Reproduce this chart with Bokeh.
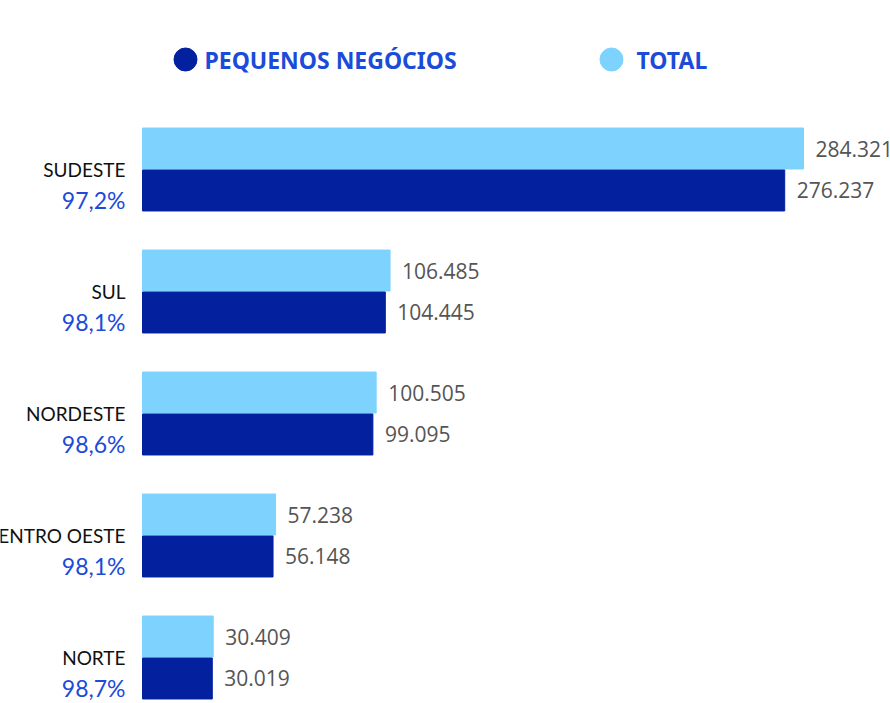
from bokeh.plotting import figure
from bokeh.models import ColumnDataSource, Range1d
from bokeh.core.properties import value
from bokeh.embed import file_html
from bokeh.resources import INLINE

regions = ["SUDESTE", "SUL", "NORDESTE", "CENTRO OESTE", "NORTE"]
shares = ["97,2%", "98,1%", "98,6%", "98,1%", "98,7%"]
total = [284321, 106485, 100505, 57238, 30409]
pequenos = [276237, 104445, 99095, 56148, 30019]
series_names = ["PEQUENOS NEGÓCIOS", "TOTAL"]

DARK = "#03209e"
LIGHT = "#7dd3fd"
BLUE_TXT = "#1b4bd8"
GREY = "#555555"

def fmt(v):
    return f"{v:,}".replace(",", ".")

n = len(regions)
pos = [-i for i in range(n)]
off = 0.172
bh = 0.336

src = ColumnDataSource(dict(
    region=regions, share=shares, pos=pos,
    y_tot=[p + off for p in pos], y_pn=[p - off for p in pos],
    total=total, pequenos=pequenos,
    tot_lbl=[fmt(v) for v in total], pn_lbl=[fmt(v) for v in pequenos],
    pct_y=[p - 0.25 for p in pos],
))

upp = 284321 / 661.0  # units per pixel
W, H = 890, 703
p = figure(width=W, height=H, output_backend="svg", toolbar_location=None,
           x_range=Range1d(-142 * upp, (W - 142) * upp),
           y_range=Range1d((169 - H) / 122.0, 169 / 122.0),
           min_border=0, min_border_left=0, min_border_right=0,
           min_border_top=0, min_border_bottom=0)
p.axis.visible = False
p.grid.visible = False
p.outline_line_color = None
p.background_fill_color = "white"

p.hbar(y="y_tot", right="total", left=0, height=bh, color=LIGHT, source=src)
p.hbar(y="y_pn", right="pequenos", left=0, height=bh, color=DARK, source=src)

p.text(x="total", y="y_tot", text="tot_lbl", source=src, x_offset=12,
       text_align="left", text_baseline="middle", text_color=GREY,
       text_font=value("Open Sans"), text_font_size="21px")
p.text(x="pequenos", y="y_pn", text="pn_lbl", source=src, x_offset=12,
       text_align="left", text_baseline="middle", text_color=GREY,
       text_font=value("Open Sans"), text_font_size="21px")

p.text(x=0, y="pos", text="region", source=src, x_offset=-17,
       text_align="right", text_baseline="middle", text_color="#111111",
       text_font=value("Lato"), text_font_size="19px")
p.text(x=0, y="pct_y", text="share", source=src, x_offset=-17,
       text_align="right", text_baseline="middle", text_color=BLUE_TXT,
       text_font=value("Lato"), text_font_size="23px")

# legend
ly = (169 - 59) / 122.0
leg = ColumnDataSource(dict(
    x=[(185 - 142) * upp, (611 - 142) * upp],
    tx=[(204 - 142) * upp, (636 - 142) * upp],
    y=[ly, ly], c=[DARK, LIGHT], t=series_names))
p.scatter(x="x", y="y", color="c", size=23, source=leg)
p.text(x="tx", y="y", text="t", source=leg, text_align="left",
       text_baseline="middle", text_color=BLUE_TXT, text_font_style="bold",
       text_font=value("Noto Sans"), text_font_size="23px")

open("out.html", "w").write(file_html(p, INLINE))
